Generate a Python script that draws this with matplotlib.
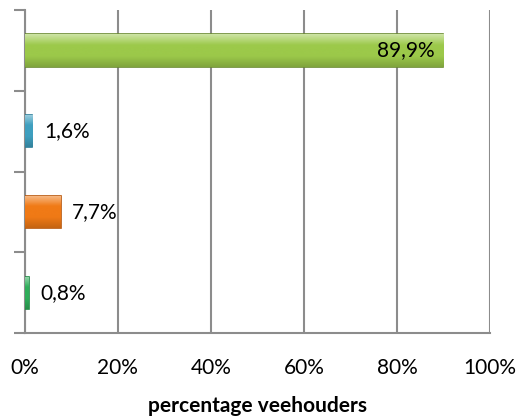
import matplotlib.pyplot as plt
import numpy as np
from matplotlib.colors import LinearSegmentedColormap, to_rgb

plt.rcParams.update(
    {
        "font.family": ["Lato", "DejaVu Sans"],
        "font.size": 15,
    }
)

# bottom -> top
categories = ["cat 1", "cat 2", "cat 3", "cat 4"]
values = [0.8, 7.7, 1.6, 89.9]
labels = ["0,8%", "7,7%", "1,6%", "89,9%"]
face_colors = ["#2fae5a", "#f07a16", "#3f9fbf", "#9cc94a"]
edge_colors = ["#1f8a44", "#b8560a", "#2b7d99", "#6a8a30"]
xticks = [0, 20, 40, 60, 80, 100]
xtick_labels = ["0%", "20%", "40%", "60%", "80%", "100%"]

fig = plt.figure(figsize=(5.28, 4.2), dpi=100)
ax = fig.add_axes([0.047, 0.207, 0.881, 0.769])

y = np.arange(len(categories))
bars = ax.barh(y, values, height=0.4, color=face_colors,
               edgecolor=edge_colors, linewidth=1.2, zorder=3)

# vertical gradient to mimic the bevelled look (light top, darker bottom)
for bar, fc in zip(bars, face_colors):
    x0, y0 = bar.get_x(), bar.get_y()
    w, h = bar.get_width(), bar.get_height()
    base = np.array(to_rgb(fc))
    light = base + (1 - base) * 0.5
    dark = base * 0.82
    cmap = LinearSegmentedColormap.from_list("g", [light, base, base, dark])
    grad = np.linspace(0, 1, 64).reshape(-1, 1)
    im = ax.imshow(grad, cmap=cmap, aspect="auto", origin="upper",
                   extent=[x0, x0 + w, y0, y0 + h], zorder=3.5,
                   interpolation="bicubic")
    im.set_clip_path(bar)

for yi, v, lab in zip(y, values, labels):
    if v > 50:
        ax.text(v - 1.8, yi, lab, ha="right", va="center", zorder=5)
    else:
        ax.text(v + 2.5, yi, lab, ha="left", va="center", zorder=5)

ax.set_xlim(0, 100)
ax.set_ylim(-0.5, 3.5)
ax.set_xticks(xticks)
ax.set_xticklabels(xtick_labels)
ax.set_yticks(np.arange(-0.5, 4.0, 1.0))
ax.set_yticklabels([])
ax.tick_params(axis="y", length=8, width=1.5, color="#8c8c8c", direction="out")
ax.tick_params(axis="x", length=0, pad=18)

ax.grid(axis="x", color="#8c8c8c", linewidth=1.5, zorder=0)
ax.set_axisbelow(True)
for side in ["top", "right"]:
    ax.spines[side].set_visible(False)
for side in ["left", "bottom"]:
    ax.spines[side].set_color("#8c8c8c")
    ax.spines[side].set_linewidth(1.5)

ax.set_xlabel("percentage veehouders", fontweight="bold", fontsize=15, labelpad=13)

fig.savefig("out.png", dpi=100)
